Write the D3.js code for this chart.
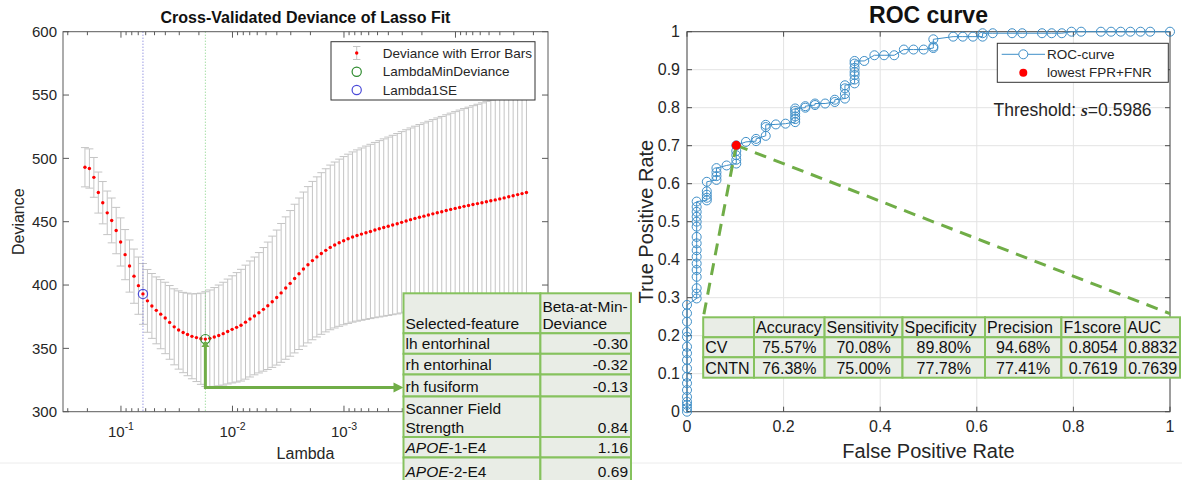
<!DOCTYPE html>
<html>
<head>
<meta charset="utf-8">
<script src="https://cdn.jsdelivr.net/npm/d3@7"></script>
<style>
  body { margin: 0; background: #fff; }
  svg { display: block; font-family: "Liberation Sans", Arial, Helvetica, sans-serif; }
</style>
</head>
<body>
<svg id="fig" width="1182" height="480"></svg>
<script>
// ---- left panel: lasso cross-validation ----
const lambda = [
  2.104e-1, 1.919e-1, 1.750e-1, 1.596e-1, 1.456e-1, 1.328e-1, 1.211e-1, 1.104e-1, 1.007e-1,
  9.18e-2, 8.38e-2, 7.64e-2, 6.97e-2, 6.35e-2, 5.79e-2, 5.28e-2, 4.82e-2, 4.40e-2, 4.01e-2, 3.66e-2, 3.33e-2, 3.04e-2, 2.77e-2, 2.53e-2, 2.31e-2,
  2.104e-2, 1.919e-2, 1.750e-2, 1.596e-2, 1.456e-2, 1.328e-2, 1.211e-2, 1.104e-2, 1.007e-2,
  9.18e-3, 8.38e-3, 7.64e-3, 6.97e-3, 6.35e-3, 5.79e-3, 5.28e-3, 4.82e-3, 4.40e-3, 4.01e-3, 3.66e-3, 3.33e-3, 3.04e-3, 2.77e-3, 2.53e-3, 2.31e-3,
  2.104e-3, 1.919e-3, 1.750e-3, 1.596e-3, 1.456e-3, 1.328e-3, 1.211e-3, 1.104e-3, 1.007e-3,
  9.18e-4, 8.38e-4, 7.64e-4, 6.97e-4, 6.35e-4, 5.79e-4, 5.28e-4, 4.82e-4, 4.40e-4, 4.01e-4, 3.66e-4, 3.33e-4, 3.04e-4, 2.77e-4, 2.53e-4, 2.31e-4,
  2.104e-4, 1.919e-4, 1.750e-4, 1.596e-4, 1.456e-4, 1.328e-4, 1.211e-4, 1.104e-4, 1.007e-4,
  9.18e-5, 8.38e-5, 7.64e-5, 6.97e-5, 6.35e-5, 5.79e-5, 5.28e-5, 4.82e-5, 4.40e-5, 4.01e-5, 3.66e-5, 3.33e-5, 3.04e-5, 2.77e-5, 2.53e-5, 2.31e-5
];
const deviance = [
  493, 492, 485, 473, 465, 457, 451, 443, 434, 424,
  415, 407, 399.5, 393, 387.5, 383.5, 380, 377, 374, 370.5,
  367, 364.5, 362.5, 361, 359.5, 358.5, 357.6, 357.3, 357.9, 359.0,
  360.2, 361.6, 363.3, 365.0, 366.6, 368.3, 370.7, 373.2, 375.6, 378.1,
  380.8, 383.6, 386.8, 390.1, 393.8, 397.6, 401.3, 405.1, 408.9, 412.6,
  416.0, 419.3, 422.2, 424.9, 427.4, 429.7, 431.6, 433.4, 435.0, 436.5,
  437.9, 439.1, 440.2, 441.3, 442.3, 443.4, 444.4, 445.4, 446.4, 447.4,
  448.4, 449.5, 450.6, 451.6, 452.6, 453.5, 454.4, 455.3, 456.2, 457.1,
  457.9, 458.8, 459.7, 460.5, 461.3, 462.1, 462.8, 463.6, 464.3, 465.0,
  465.8, 466.5, 467.2, 468.0, 468.8, 469.7, 470.5, 471.4, 472.2, 473.0
];
const devianceSE = [
  15.5, 15.5, 15.7, 16.2, 16.7, 17.2, 17.7, 18.3, 19.0, 19.8,
  20.6, 21.4, 22.6, 24.0, 24.8, 25.6, 26.4, 27.3, 28.2, 29.1,
  30.0, 30.9, 31.7, 32.6, 33.5, 34.7, 36.0, 37.4, 38.2, 39.0,
  39.8, 40.6, 41.4, 42.3, 43.2, 44.1, 45.0, 45.8, 46.5, 47.5,
  48.8, 50.3, 51.8, 53.3, 54.8, 56.2, 57.5, 58.7, 59.8, 60.8,
  61.7, 62.5, 63.2, 63.8, 64.4, 65.0, 65.5, 66.0, 66.4, 66.8,
  67.2, 67.6, 68.0, 68.4, 68.8, 69.2, 69.6, 70.0, 70.4, 70.8,
  71.2, 71.6, 72.0, 72.4, 72.8, 73.2, 73.6, 74.0, 74.4, 74.8,
  75.2, 75.6, 76.0, 76.4, 76.8, 77.2, 77.6, 78.0, 78.4, 78.8,
  79.2, 79.6, 80.0, 80.4, 80.8, 81.2, 81.6, 82.0, 82.4, 82.8
];
const idxMinDeviance = 27;
const idx1SE = 13;
const devianceTicks = [300, 350, 400, 450, 500, 550, 600];
const lambdaLabelExp = ["-1", "-2", "-3"];
const lassoLegend = ["Deviance with Error Bars", "LambdaMinDeviance", "Lambda1SE"];

const featureNames = ["lh entorhinal", "rh entorhinal", "rh fusiform", "Scanner Field|Strength", "APOE|-1-E4", "APOE|-2-E4"];
const featureBetas = ["-0.30", "-0.32", "-0.13", "0.84", "1.16", "0.69"];

// ---- right panel: ROC ----
const rocFPR = [
  0, 0, 0, 0, 0, 0, 0, 0, 0, 0, 0, 0, 0, 0, 0, 0, 0,
  0.02, 0.02, 0.02, 0.02, 0.02, 0.02, 0.02, 0.02, 0.02, 0.02, 0.02, 0.02, 0.02, 0.02, 0.02, 0.02,
  0.041, 0.041, 0.041, 0.041, 0.041,
  0.061, 0.061, 0.061, 0.061,
  0.082,
  0.102, 0.102, 0.102, 0.102, 0.102,
  0.122, 0.143, 0.143,
  0.163, 0.163, 0.163,
  0.184, 0.204,
  0.224, 0.224, 0.224, 0.224, 0.224, 0.224,
  0.245, 0.245, 0.265, 0.265, 0.286, 0.306, 0.306,
  0.327, 0.327, 0.327, 0.327,
  0.347, 0.347, 0.347, 0.347, 0.347, 0.347, 0.347,
  0.367, 0.388, 0.408, 0.429, 0.449, 0.469, 0.49,
  0.51, 0.51, 0.51,
  0.551, 0.571, 0.592, 0.612, 0.612, 0.633, 0.673, 0.694,
  0.735, 0.755, 0.776, 0.796, 0.816,
  0.857, 0.878, 0.898, 0.918, 0.939, 0.959, 1
];
const rocTPR = [
  0, 0.009, 0.018, 0.026, 0.039, 0.057, 0.075, 0.092, 0.114, 0.136, 0.154, 0.171, 0.197, 0.21, 0.237, 0.259, 0.281,
  0.298, 0.311, 0.325, 0.355, 0.373, 0.39, 0.408, 0.425, 0.443, 0.46, 0.487, 0.5, 0.513, 0.526, 0.539, 0.553,
  0.556, 0.563, 0.571, 0.58, 0.605,
  0.61, 0.62, 0.63, 0.641,
  0.648,
  0.653, 0.663, 0.675, 0.686, 0.701,
  0.71, 0.712, 0.718,
  0.726, 0.749, 0.755,
  0.756, 0.758,
  0.762, 0.77, 0.777, 0.785, 0.792, 0.798,
  0.8, 0.804, 0.807, 0.811, 0.811, 0.815, 0.821,
  0.824, 0.836, 0.851, 0.859,
  0.864, 0.874, 0.886, 0.894, 0.905, 0.916, 0.923,
  0.923, 0.938, 0.938, 0.938, 0.953, 0.953, 0.953,
  0.957, 0.961, 0.98,
  0.987, 0.987, 0.987, 0.987, 0.996, 0.996, 0.996, 0.996,
  0.996, 0.996, 0.996, 1, 1,
  1, 1, 1, 1, 1, 1, 1
];
const bestPoint = [0.102, 0.701];
const dashEnds = [[0.034, 0.25], [1.0, 0.258]];
const rocTicksX = [0, 0.2, 0.4, 0.6, 0.8, 1];
const rocTicksY = [0, 0.1, 0.2, 0.3, 0.4, 0.5, 0.6, 0.7, 0.8, 0.9, 1];
const rocLegend = ["ROC-curve", "lowest FPR+FNR"];
const thresholdValue = "0.5986";

const metricNames = ["Accuracy", "Sensitivity", "Specificity", "Precision", "F1score", "AUC"];
const rowNames = ["CV", "CNTN"];
const cvValues = ["75.57%", "70.08%", "89.80%", "94.68%", "0.8054", "0.8832"];
const cntnValues = ["76.38%", "75.00%", "77.78%", "77.41%", "0.7619", "0.7639"];

const TXT = "#262626";
const GREEN = "#70ad47";
const CELL_FILL = "#e9ede6";
const CELL_LINE = "#86c25e";
const ROC_BLUE = "#3f8fc8";

const svg = d3.select("#fig");
svg.append("rect").attr("width", 1182).attr("height", 480).attr("fill", "#fff");
svg.append("line").attr("x1", 0).attr("x2", 1182).attr("y1", 463).attr("y2", 463)
  .attr("stroke", "#ececec").attr("stroke-width", 1);

// ================= LEFT =================
const xL = d3.scaleLog().domain([0.331, 1.48e-5]).range([63, 548]);
const yL = d3.scaleLinear().domain([300, 600]).range([411.7, 31.7]);
const gL = svg.append("g");

// error bars
const bars = gL.append("g").attr("stroke", "#c4c4c4").attr("stroke-width", 1);
lambda.forEach((l, i) => {
  const x = xL(l), lo = yL(deviance[i] - devianceSE[i]), hi = yL(deviance[i] + devianceSE[i]);
  bars.append("line").attr("x1", x).attr("x2", x).attr("y1", lo).attr("y2", hi);
  bars.append("line").attr("x1", x - 4).attr("x2", x + 4).attr("y1", lo).attr("y2", lo);
  bars.append("line").attr("x1", x - 4).attr("x2", x + 4).attr("y1", hi).attr("y2", hi);
});

// reference lines
gL.append("line").attr("x1", xL(lambda[idx1SE])).attr("x2", xL(lambda[idx1SE]))
  .attr("y1", yL(600)).attr("y2", yL(300))
  .attr("stroke", "#6b6bd6").attr("stroke-width", 1).attr("stroke-dasharray", "1,2");
gL.append("line").attr("x1", xL(lambda[idxMinDeviance])).attr("x2", xL(lambda[idxMinDeviance]))
  .attr("y1", yL(600)).attr("y2", yL(300))
  .attr("stroke", "#7fd07f").attr("stroke-width", 1).attr("stroke-dasharray", "1,2");

// mean deviance points
gL.append("g").selectAll("circle").data(lambda).join("circle")
  .attr("cx", d => xL(d)).attr("cy", (d, i) => yL(deviance[i]))
  .attr("r", 1.7).attr("fill", "#f00");

gL.append("circle").attr("cx", xL(lambda[idx1SE])).attr("cy", yL(deviance[idx1SE]))
  .attr("r", 4.6).attr("fill", "none").attr("stroke", "#4b4bd8").attr("stroke-width", 1.2);
gL.append("circle").attr("cx", xL(lambda[idxMinDeviance])).attr("cy", yL(deviance[idxMinDeviance]))
  .attr("r", 4.6).attr("fill", "none").attr("stroke", "#2e8b2e").attr("stroke-width", 1.2);

// frame
gL.append("rect").attr("x", 63).attr("y", 31.7).attr("width", 485).attr("height", 380)
  .attr("fill", "none").attr("stroke", "#5a5a5a").attr("stroke-width", 1);

// y ticks
devianceTicks.forEach(v => {
  const y = yL(v);
  gL.append("line").attr("x1", 63).attr("x2", 69).attr("y1", y).attr("y2", y).attr("stroke", "#5a5a5a");
  gL.append("line").attr("x1", 548).attr("x2", 542).attr("y1", y).attr("y2", y).attr("stroke", "#5a5a5a");
  gL.append("text").attr("x", 57).attr("y", y).attr("dy", "0.35em").attr("text-anchor", "end")
    .attr("font-size", 15).attr("fill", TXT).text(v);
});

// x ticks (log, major + minor)
xL.ticks().forEach(v => {
  const x = xL(v);
  const mant = Math.round(v / Math.pow(10, Math.floor(Math.log10(v) + 1e-9)));
  const len = mant === 1 ? 6 : 3.5;
  gL.append("line").attr("x1", x).attr("x2", x).attr("y1", 411.7).attr("y2", 411.7 - len).attr("stroke", "#5a5a5a");
  gL.append("line").attr("x1", x).attr("x2", x).attr("y1", 31.7).attr("y2", 31.7 + len).attr("stroke", "#5a5a5a");
});
lambdaLabelExp.forEach(e => {
  const t = gL.append("text").attr("x", xL(Math.pow(10, +e))).attr("y", 437)
    .attr("text-anchor", "middle").attr("font-size", 15).attr("fill", TXT);
  t.append("tspan").text("10");
  t.append("tspan").attr("dy", -7).attr("font-size", 10.5).text(e);
});

gL.append("text").attr("x", 305.5).attr("y", 459).attr("text-anchor", "middle")
  .attr("font-size", 16).attr("fill", TXT).text("Lambda");
gL.append("text").attr("transform", "translate(24,221.7) rotate(-90)").attr("text-anchor", "middle")
  .attr("font-size", 16).attr("fill", TXT).text("Deviance");
gL.append("text").attr("x", 305.5).attr("y", 23).attr("text-anchor", "middle")
  .attr("font-size", 16).attr("font-weight", "bold").attr("fill", "#111").text("Cross-Validated Deviance of Lasso Fit");

// legend
const lgL = gL.append("g");
lgL.append("rect").attr("x", 331).attr("y", 41.7).attr("width", 204).attr("height", 58.3)
  .attr("fill", "#fff").attr("stroke", "#333").attr("stroke-width", 1);
const lgY = [53, 71.7, 90];
lgL.append("line").attr("x1", 356.7).attr("x2", 356.7).attr("y1", 46.5).attr("y2", 59.5).attr("stroke", "#c4c4c4");
lgL.append("line").attr("x1", 353).attr("x2", 360.4).attr("y1", 46.5).attr("y2", 46.5).attr("stroke", "#c4c4c4");
lgL.append("line").attr("x1", 353).attr("x2", 360.4).attr("y1", 59.5).attr("y2", 59.5).attr("stroke", "#c4c4c4");
lgL.append("circle").attr("cx", 356.7).attr("cy", lgY[0]).attr("r", 1.7).attr("fill", "#f00");
lgL.append("circle").attr("cx", 356.7).attr("cy", lgY[1]).attr("r", 4.6).attr("fill", "none").attr("stroke", "#2e8b2e").attr("stroke-width", 1.2);
lgL.append("circle").attr("cx", 356.7).attr("cy", lgY[2]).attr("r", 4.6).attr("fill", "none").attr("stroke", "#4b4bd8").attr("stroke-width", 1.2);
lassoLegend.forEach((s, i) => {
  lgL.append("text").attr("x", 382.7).attr("y", lgY[i]).attr("dy", "0.35em")
    .attr("font-size", 13.5).attr("fill", TXT).text(s);
});

// arrow from the minimum to the table
const tblX = [403.5, 540.4, 631];
const tblY = [293.3, 333.3, 353.8, 374.5, 396.5, 437, 457.5, 481];
const ax = xL(lambda[idxMinDeviance]);
const ayTop = yL(deviance[idxMinDeviance]) + 3;
const ayBot = yL(deviance[idxMinDeviance] - devianceSE[idxMinDeviance]) + 1;
gL.append("path").attr("d", `M${ax},${ayTop} V${ayBot} H${tblX[0] - 8}`)
  .attr("fill", "none").attr("stroke", GREEN).attr("stroke-width", 3);
gL.append("path").attr("d", `M${tblX[0] - 10},${ayBot - 5} L${tblX[0]},${ayBot} L${tblX[0] - 10},${ayBot + 5} Z`)
  .attr("fill", GREEN);
gL.append("path").attr("d", `M${ax - 4},${ayTop + 5} L${ax},${ayTop - 1} L${ax + 4},${ayTop + 5} Z`)
  .attr("fill", GREEN);

// feature table
const tL = svg.append("g");
for (let r = 0; r < tblY.length - 1; r++) {
  for (let c = 0; c < 2; c++) {
    tL.append("rect").attr("x", tblX[c]).attr("y", tblY[r])
      .attr("width", tblX[c + 1] - tblX[c]).attr("height", tblY[r + 1] - tblY[r])
      .attr("fill", CELL_FILL).attr("stroke", CELL_LINE).attr("stroke-width", 2);
  }
}
const tfs = 15.5;
tL.append("text").attr("x", tblX[0] + 2).attr("y", tblY[1] - 4).attr("font-size", tfs).attr("fill", "#111").text("Selected-feature");
tL.append("text").attr("x", tblX[1] + 2).attr("y", tblY[1] - 21).attr("font-size", tfs).attr("fill", "#111").text("Beta-at-Min-");
tL.append("text").attr("x", tblX[1] + 2).attr("y", tblY[1] - 4).attr("font-size", tfs).attr("fill", "#111").text("Deviance");
featureNames.forEach((f, i) => {
  const yb = tblY[i + 2] - 4.5;
  const parts = f.split("|");
  if (f.startsWith("APOE")) {
    const t = tL.append("text").attr("x", tblX[0] + 2).attr("y", yb).attr("font-size", tfs).attr("fill", "#111");
    t.append("tspan").attr("font-style", "italic").text(parts[0]);
    t.append("tspan").text(parts[1]);
  } else if (parts.length === 2) {
    tL.append("text").attr("x", tblX[0] + 2).attr("y", yb - 18.5).attr("font-size", tfs).attr("fill", "#111").text(parts[0]);
    tL.append("text").attr("x", tblX[0] + 2).attr("y", yb).attr("font-size", tfs).attr("fill", "#111").text(parts[1]);
  } else {
    tL.append("text").attr("x", tblX[0] + 2).attr("y", yb).attr("font-size", tfs).attr("fill", "#111").text(f);
  }
  tL.append("text").attr("x", tblX[2] - 3).attr("y", yb).attr("text-anchor", "end")
    .attr("font-size", tfs).attr("fill", "#111").text(featureBetas[i]);
});

// ================= RIGHT =================
const xR = d3.scaleLinear().domain([0, 1]).range([687, 1170]);
const yR = d3.scaleLinear().domain([0, 1]).range([411.7, 31.7]);
const gR = svg.append("g");

// grid
rocTicksX.forEach(v => gR.append("line").attr("x1", xR(v)).attr("x2", xR(v)).attr("y1", yR(0)).attr("y2", yR(1))
  .attr("stroke", "#e3e3e3").attr("stroke-width", 1));
rocTicksY.forEach(v => gR.append("line").attr("x1", xR(0)).attr("x2", xR(1)).attr("y1", yR(v)).attr("y2", yR(v))
  .attr("stroke", "#e3e3e3").attr("stroke-width", 1));

// frame and ticks
gR.append("rect").attr("x", xR(0)).attr("y", yR(1)).attr("width", xR(1) - xR(0)).attr("height", yR(0) - yR(1))
  .attr("fill", "none").attr("stroke", "#4a4a4a").attr("stroke-width", 1);
rocTicksX.forEach(v => {
  gR.append("line").attr("x1", xR(v)).attr("x2", xR(v)).attr("y1", yR(0)).attr("y2", yR(0) - 5).attr("stroke", "#4a4a4a");
  gR.append("line").attr("x1", xR(v)).attr("x2", xR(v)).attr("y1", yR(1)).attr("y2", yR(1) + 5).attr("stroke", "#4a4a4a");
  gR.append("text").attr("x", xR(v)).attr("y", 432).attr("text-anchor", "middle")
    .attr("font-size", 16).attr("fill", TXT).text(v);
});
rocTicksY.forEach(v => {
  gR.append("line").attr("x1", xR(0)).attr("x2", xR(0) + 5).attr("y1", yR(v)).attr("y2", yR(v)).attr("stroke", "#4a4a4a");
  gR.append("line").attr("x1", xR(1)).attr("x2", xR(1) - 5).attr("y1", yR(v)).attr("y2", yR(v)).attr("stroke", "#4a4a4a");
  gR.append("text").attr("x", 680).attr("y", yR(v)).attr("dy", "0.35em").attr("text-anchor", "end")
    .attr("font-size", 16).attr("fill", TXT).text(v);
});

gR.append("text").attr("x", 928.5).attr("y", 458).attr("text-anchor", "middle")
  .attr("font-size", 20).attr("fill", TXT).text("False Positive Rate");
gR.append("text").attr("transform", "translate(653,221.7) rotate(-90)").attr("text-anchor", "middle")
  .attr("font-size", 20).attr("fill", TXT).text("True Positive Rate");
gR.append("text").attr("x", 928.5).attr("y", 23).attr("text-anchor", "middle")
  .attr("font-size", 23).attr("font-weight", "bold").attr("fill", "#111").text("ROC curve");

// ROC line + markers
const rocPts = rocFPR.map((f, i) => [f, rocTPR[i]]);
gR.append("path").datum(rocPts)
  .attr("d", d3.line().x(d => xR(d[0])).y(d => yR(d[1])))
  .attr("fill", "none").attr("stroke", ROC_BLUE).attr("stroke-width", 1);
gR.append("g").selectAll("circle").data(rocPts).join("circle")
  .attr("cx", d => xR(d[0])).attr("cy", d => yR(d[1])).attr("r", 4.5)
  .attr("fill", "none").attr("stroke", ROC_BLUE).attr("stroke-width", 1);

// dashed annotation lines
dashEnds.forEach(e => {
  gR.append("line").attr("x1", xR(bestPoint[0])).attr("y1", yR(bestPoint[1]))
    .attr("x2", xR(e[0])).attr("y2", yR(e[1]))
    .attr("stroke", GREEN).attr("stroke-width", 3).attr("stroke-dasharray", "12,8");
});
gR.append("circle").attr("cx", xR(bestPoint[0])).attr("cy", yR(bestPoint[1])).attr("r", 4.5).attr("fill", "#f00");

// legend
const lgR = gR.append("g");
lgR.append("rect").attr("x", 997.3).attr("y", 43.3).attr("width", 171).attr("height", 39)
  .attr("fill", "#fff").attr("stroke", "#333").attr("stroke-width", 1);
lgR.append("line").attr("x1", 1001.7).attr("x2", 1045).attr("y1", 54.3).attr("y2", 54.3).attr("stroke", ROC_BLUE);
lgR.append("circle").attr("cx", 1023.3).attr("cy", 54.3).attr("r", 4.5).attr("fill", "#fff").attr("stroke", ROC_BLUE);
lgR.append("circle").attr("cx", 1023.3).attr("cy", 72.7).attr("r", 4).attr("fill", "#f00");
rocLegend.forEach((s, i) => {
  lgR.append("text").attr("x", 1047).attr("y", i === 0 ? 54.3 : 72.7).attr("dy", "0.35em")
    .attr("font-size", 13.5).attr("fill", TXT).text(s);
});

// threshold annotation
const th = gR.append("text").attr("x", 993.5).attr("y", 116).attr("font-size", 17.5).attr("fill", TXT);
th.append("tspan").text("Threshold: ");
th.append("tspan").attr("font-family", "'Liberation Serif', 'Times New Roman', serif")
  .attr("font-style", "italic").attr("font-weight", "bold").text("s");
th.append("tspan").text("=" + thresholdValue);

// metrics table
const rtX = [703.2, 754, 824.6, 902.5, 985, 1061.4, 1125.2, 1180];
const rtY = [317.3, 337.3, 357.3, 377.7];
const tR = svg.append("g");
for (let r = 0; r < 3; r++) {
  for (let c = 0; c < 7; c++) {
    tR.append("rect").attr("x", rtX[c]).attr("y", rtY[r])
      .attr("width", rtX[c + 1] - rtX[c]).attr("height", rtY[r + 1] - rtY[r])
      .attr("fill", CELL_FILL).attr("stroke", CELL_LINE).attr("stroke-width", 2);
  }
}
const rfs = 16;
metricNames.forEach((m, c) => {
  tR.append("text").attr("x", rtX[c + 1] + 2).attr("y", rtY[1] - 4.5)
    .attr("font-size", rfs).attr("fill", "#111").text(m);
});
[cvValues, cntnValues].forEach((row, r) => {
  const yb = rtY[r + 2] - 4;
  tR.append("text").attr("x", rtX[0] + 2).attr("y", yb).attr("font-size", rfs).attr("fill", "#111").text(rowNames[r]);
  row.forEach((v, c) => {
    tR.append("text").attr("x", (rtX[c + 1] + rtX[c + 2]) / 2).attr("y", yb).attr("text-anchor", "middle")
      .attr("font-size", rfs).attr("fill", "#111").text(v);
  });
});
</script>
</body>
</html>
